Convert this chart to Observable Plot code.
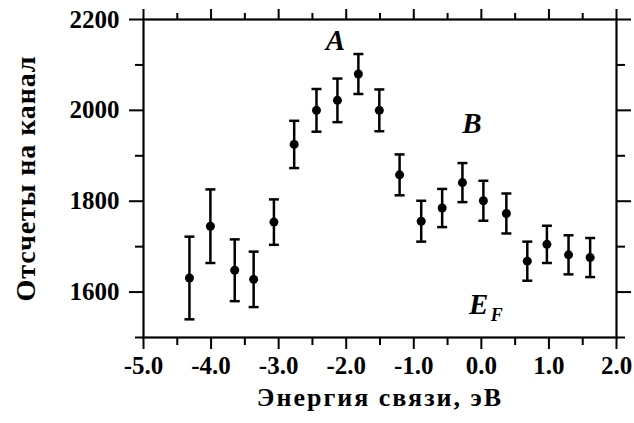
<!DOCTYPE html>
<html>
<head>
<meta charset="utf-8">
<script src="https://cdn.jsdelivr.net/npm/d3@7"></script>
<script src="https://cdn.jsdelivr.net/npm/@observablehq/plot@0.6"></script>
<style>
  html, body { margin: 0; padding: 0; background: #fff; }
  #chart svg { display: block; }
</style>
</head>
<body>
<div id="chart"></div>
<script>
// Data
const energy = [-4.32, -4.01, -3.65, -3.37, -3.07, -2.77, -2.44, -2.13, -1.82, -1.51, -1.21, -0.89, -0.58, -0.28, 0.03, 0.37, 0.68, 0.97, 1.29, 1.61];
const counts = [1631, 1745, 1648, 1628, 1754, 1925, 2000, 2022, 2080, 2000, 1858, 1756, 1785, 1841, 1801, 1773, 1668, 1705, 1682, 1676];
const errors = [91, 81, 68, 61, 50, 52, 47, 48, 44, 46, 45, 45, 42, 43, 44, 44, 43, 41, 43, 43];

const xMajorTicks = [-5, -4, -3, -2, -1, 0, 1, 2];
const xMinorTicks = [-4.5, -3.5, -2.5, -1.5, -0.5, 0.5, 1.5];
const yMajorTicks = [1600, 1800, 2000, 2200];
const yMinorTicks = [1500, 1700, 1900, 2100];

const xLabel = "Энергия связи, эВ";
const yLabel = "Отсчеты на канал";

const peakNames = ["A", "B"];
const peakX = [-2.16, -0.14];
const peakY = [2153, 1971];
const fermiName = ["E"];
const fermiSub = ["F"];
const fermiX = [-0.04];
const fermiY = [1572];

const data = energy.map((x, i) => ({x, y: counts[i], e: errors[i]}));
const peaks = peakNames.map((t, i) => ({t, x: peakX[i], y: peakY[i]}));
const fermi = fermiName.map((t, i) => ({t, s: fermiSub[i], x: fermiX[i], y: fermiY[i]}));

const hline = {
  draw(ctx, size) {
    const r = Math.sqrt(size / Math.PI);
    ctx.moveTo(-r, 0);
    ctx.lineTo(r, 0);
  }
};

const font = "'Liberation Serif', 'DejaVu Serif', serif";
const blank = () => "";

const chart = Plot.plot({
  width: 634,
  height: 423,
  marginLeft: 143,
  marginRight: 18,
  marginTop: 19,
  marginBottom: 86,
  x: {domain: [-5, 2]},
  y: {domain: [1500, 2200]},
  style: {fontFamily: font, fontWeight: "bold", background: "#fff", color: "#000"},
  marks: [
    // bottom axis
    Plot.axisX({ticks: xMajorTicks, tickSize: 12, tickPadding: 7, strokeWidth: 2, fontSize: 25, fontWeight: "bold", tickFormat: d => d.toFixed(1), label: null}),
    Plot.axisX({ticks: xMinorTicks, tickSize: 8, strokeWidth: 2, tickFormat: blank, label: null}),
    // top axis
    Plot.axisX({anchor: "top", ticks: xMajorTicks, tickSize: 11, strokeWidth: 2, tickFormat: blank, label: null}),
    Plot.axisX({anchor: "top", ticks: xMinorTicks, tickSize: 7, strokeWidth: 2, tickFormat: blank, label: null}),
    // left axis
    Plot.axisY({ticks: yMajorTicks, tickSize: 14, tickPadding: 10, strokeWidth: 2, fontSize: 25, fontWeight: "bold", tickFormat: d => String(d), label: null}),
    Plot.axisY({ticks: yMinorTicks, tickSize: 8, strokeWidth: 2, tickFormat: blank, label: null}),
    // right axis
    Plot.axisY({anchor: "right", ticks: yMajorTicks, tickSize: 14, strokeWidth: 2, tickFormat: blank, label: null}),
    Plot.axisY({anchor: "right", ticks: yMinorTicks, tickSize: 8, strokeWidth: 2, tickFormat: blank, label: null}),
    Plot.frame({strokeWidth: 2.2}),
    // error bars
    Plot.ruleX(data, {x: "x", y1: d => d.y - d.e, y2: d => d.y + d.e, strokeWidth: 2.5}),
    Plot.dot(data, {x: "x", y: d => d.y - d.e, symbol: hline, r: 5, fill: "none", stroke: "#000", strokeWidth: 2.5}),
    Plot.dot(data, {x: "x", y: d => d.y + d.e, symbol: hline, r: 5, fill: "none", stroke: "#000", strokeWidth: 2.5}),
    Plot.dot(data, {x: "x", y: "y", r: 4.5, fill: "#000"}),
    // annotations
    Plot.text(peaks, {x: "x", y: "y", text: "t", fontSize: 29, fontWeight: "bold", fontStyle: "italic"}),
    Plot.text(fermi, {x: "x", y: "y", text: "t", fontSize: 29, fontWeight: "bold", fontStyle: "italic"}),
    Plot.text(fermi, {x: "x", y: "y", text: "s", dx: 18, dy: 10, fontSize: 18, fontWeight: "bold", fontStyle: "italic"}),
    // axis titles
    Plot.text([xLabel], {frameAnchor: "bottom", dy: 68, fontSize: 26, fontWeight: "bold"}),
    Plot.text([yLabel], {frameAnchor: "left", textAnchor: "middle", dx: -117, rotate: -90, fontSize: 28, fontWeight: "bold"})
  ]
});

// widen the axis titles a little, like the reference's heavy typeface
d3.select(chart).selectAll("text").each(function () {
  const t = this.textContent;
  if (t === xLabel) d3.select(this).attr("letter-spacing", "2px");
  if (t === yLabel) d3.select(this).attr("letter-spacing", "0.9px");
});

document.getElementById("chart").appendChild(chart);
</script>
</body>
</html>
